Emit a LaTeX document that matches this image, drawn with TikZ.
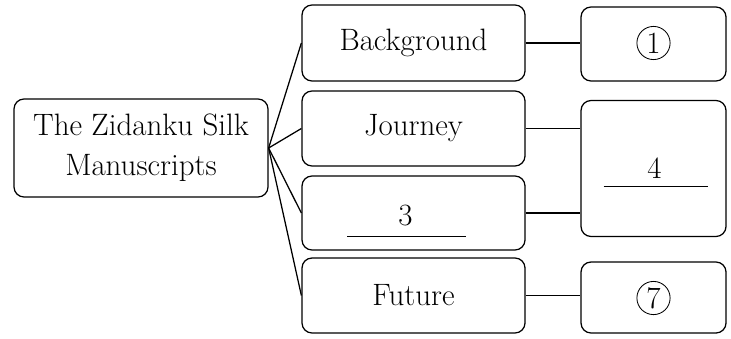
\documentclass[tikz,border=0pt]{standalone}
\usetikzlibrary{calc}

\begin{document}
\begin{tikzpicture}[
  box/.style={draw,line width=0.9pt,rounded corners=0.25cm,font=\fontsize{22}{28.5}\selectfont},
  midbox/.style={box,minimum width=5.575cm,minimum height=1.875cm},
  rightbox/.style={box,minimum width=3.625cm,minimum height=1.85cm},
  link/.style={line width=0.9pt},
  txt/.style={font=\fontsize{22}{28.5}\selectfont},
  circnum/.style={txt,circle,draw,line width=0.6pt,minimum size=0.83cm,inner sep=0pt}
]
\useasboundingbox (0,0) rectangle (18.275,8.45);

% main topic
\draw(3.525,4.75) node[box,minimum width=6.35cm,minimum height=2.45cm,align=center] (topic) {The Zidanku Silk\\Manuscripts};

% second column
\draw(10.3375,7.375) node[midbox,minimum height=1.9cm] (bg) {Background};
\draw(10.3375,5.2375) node[midbox] (journey) {Journey};
\draw(10.3375,3.125) node[midbox,minimum height=1.85cm] (three) {};
\draw(10.1375,3.065) node[txt] (n3) {3};
\draw($(three.center)+(-1.66,-0.575)$) -- ($(three.center)+(1.31,-0.575)$);
\draw(10.3375,1.0625) node[midbox] (future) {Future};

% third column
\draw(16.3375,7.35) node[rightbox] (one) {};
\draw(16.3375,7.375) node[circnum] (n1) {1};
\draw(16.3375,4.2375) node[rightbox,minimum height=3.4cm] (four) {};
\draw(16.3625,4.2375) node[txt] (n4) {4};
\draw($(four.center)+(-1.25,-0.45)$) -- ($(four.center)+(1.35,-0.45)$);
\draw(16.3375,1.0125) node[rightbox,minimum height=1.775cm] (seven) {};
\draw(16.3375,1.0) node[circnum] (n7) {7};

% fan from the topic
\foreach \b in {bg,journey,three,future}
  \draw[link] (topic.east) -- (\b.west);

% to the answers
\draw[link] (bg.east) -- (bg.east -| one.west);
\draw[link] (journey.east) -- (journey.east -| four.west);
\draw[link] (three.east) -- (three.east -| four.west);
\draw[link] (future.east) -- (future.east -| seven.west);
\end{tikzpicture}
\end{document}
